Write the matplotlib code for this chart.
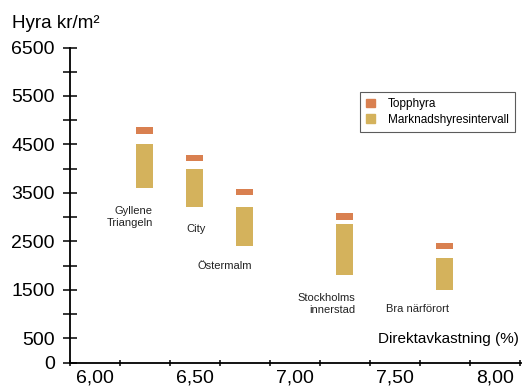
import numpy as np
import matplotlib
matplotlib.use("Agg")
import matplotlib.pyplot as plt
from matplotlib.patches import Patch

plt.rcParams['font.family'] = ['Liberation Sans', 'DejaVu Sans']

# Data
names = ["Gyllene\nTriangeln", "City", "Östermalm", "Stockholms\ninnerstad", "Bra närförort"]
yields = [6.25, 6.50, 6.75, 7.25, 7.75]
range_low = [3600, 3200, 2400, 1800, 1500]
range_high = [4500, 4000, 3200, 2850, 2150]
top_low = [4725, 4150, 3450, 2950, 2350]
top_high = [4850, 4275, 3575, 3075, 2475]

xtick_values = [6.0, 6.5, 7.0, 7.5, 8.0]
xtick_labels = ["6,00", "6,50", "7,00", "7,50", "8,00"]
ytick_values = [0, 500, 1500, 2500, 3500, 4500, 5500, 6500]
ytick_labels = ["0", "500", "1500", "2500", "3500", "4500", "5500", "6500"]

# where the area names sit (x, y, alignment)
name_pos = [(6.29, 3000, 'right'), (6.505, 2760, 'center'), (6.65, 1990, 'center'),
            (7.30, 1200, 'right'), (7.6125, 1100, 'center')]

c_top = '#D98050'
c_range = '#D4B25C'

fig = plt.figure(figsize=(5.23, 3.87), dpi=100)
ax = fig.add_axes([70/523, 24.5/387, 451/523, 315/387])

bw = 0.085
ax.bar(yields, np.array(range_high) - np.array(range_low), bottom=range_low,
       width=bw, color=c_range)
ax.bar(yields, np.array(top_high) - np.array(top_low), bottom=top_low,
       width=bw, color=c_top)

for name, (x, y, ha) in zip(names, name_pos):
    ax.text(x, y, name, ha=ha, va='center', ma=ha, fontsize=8, color='#222222',
            linespacing=1.25)

ax.set_xlim(5.875, 8.13)
ax.set_ylim(0, 6500)

# tick marks sit between the labels on the x axis
ax.set_xticks(np.arange(5.875, 8.2, 0.25))
ax.set_xticklabels([])
ax.set_xticks(xtick_values, minor=True)
ax.set_xticklabels(xtick_labels, minor=True)
ax.tick_params(axis='x', which='major', direction='inout', length=5, width=1.1)
ax.tick_params(axis='x', which='minor', length=0, pad=5, labelsize=14)

ax.set_yticks(ytick_values)
ax.set_yticklabels(ytick_labels)
ax.set_yticks([v for v in range(1000, 6500, 1000)], minor=True)
ax.tick_params(axis='y', which='both', direction='inout', length=10, width=1.1,
               pad=6, labelsize=14)

for s in ['top', 'right']:
    ax.spines[s].set_visible(False)
for s in ['left', 'bottom']:
    ax.spines[s].set_linewidth(1.3)

ax.text(0.995, 0.075, "Direktavkastning (%)", transform=ax.transAxes,
        ha='right', va='center', fontsize=11)
fig.text(12/523, 1 - 23/387, "Hyra kr/m²", ha='left', va='center', fontsize=13.5)

handles = [Patch(color=c_top, label='Topphyra'),
           Patch(color=c_range, label='Marknadshyresintervall')]
leg = ax.legend(handles=handles, loc='upper left', bbox_to_anchor=(0.643, 0.86),
                borderaxespad=0, fontsize=8.5, fancybox=False, frameon=True,
                handlelength=0.7, handleheight=0.7, handletextpad=1.1,
                labelspacing=0.3, borderpad=0.55)
leg.get_frame().set_edgecolor('#333333')
leg.get_frame().set_linewidth(0.8)

fig.savefig('out.png', dpi=100)
